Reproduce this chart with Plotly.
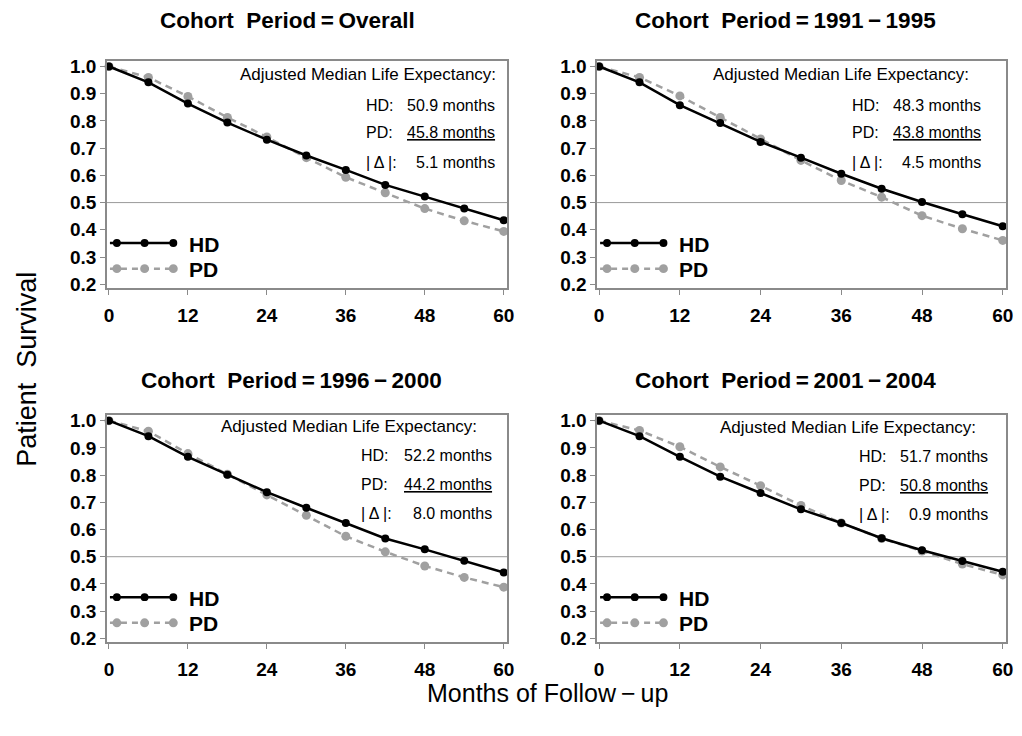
import plotly.graph_objects as go

W, H = 1022, 736

# ---------------- data ----------------
months = [0, 6, 12, 18, 24, 30, 36, 42, 48, 54, 60]

panel_titles = ["Cohort  Period\u2009=\u2009Overall", "Cohort  Period\u2009=\u20091991\u2009\u2212\u20091995",
                "Cohort  Period\u2009=\u20091996\u2009\u2212\u20092000", "Cohort  Period\u2009=\u20092001\u2009\u2212\u20092004"]

hd_overall = [1.0, 0.942, 0.864, 0.794, 0.731, 0.673, 0.620, 0.565, 0.522, 0.478, 0.435]
pd_overall = [1.0, 0.960, 0.890, 0.813, 0.741, 0.665, 0.593, 0.536, 0.478, 0.433, 0.394]

hd_9195 = [1.0, 0.942, 0.858, 0.792, 0.723, 0.665, 0.606, 0.551, 0.502, 0.457, 0.413]
pd_9195 = [1.0, 0.960, 0.892, 0.813, 0.734, 0.655, 0.581, 0.520, 0.452, 0.404, 0.361]

hd_9600 = [1.0, 0.943, 0.867, 0.801, 0.737, 0.680, 0.624, 0.567, 0.527, 0.485, 0.442]
pd_9600 = [1.0, 0.961, 0.879, 0.803, 0.727, 0.652, 0.575, 0.518, 0.466, 0.424, 0.388]

hd_0104 = [1.0, 0.943, 0.867, 0.794, 0.734, 0.674, 0.624, 0.568, 0.524, 0.484, 0.445]
pd_0104 = [1.0, 0.964, 0.904, 0.830, 0.761, 0.688, 0.624, 0.567, 0.521, 0.473, 0.433]

hd_series = [hd_overall, hd_9195, hd_9600, hd_0104]
pd_series = [pd_overall, pd_9195, pd_9600, pd_0104]

hd_median = ["50.9", "48.3", "52.2", "51.7"]
pd_median = ["45.8", "43.8", "44.2", "50.8"]
delta_abs = ["5.1", "4.5", "8.0", "0.9"]

x_ticks = [0, 12, 24, 36, 48, 60]
y_ticks = [0.2, 0.3, 0.4, 0.5, 0.6, 0.7, 0.8, 0.9, 1.0]
y_tick_labels = ["0.2", "0.3", "0.4", "0.5", "0.6", "0.7", "0.8", "0.9", "1.0"]

# ---------------- layout geometry (pixels) ----------------
frames = [  # left, right, top, bottom
    (105, 509, 57, 288),
    (600, 1013, 57, 288),
    (105, 509, 417, 648),
    (600, 1013, 417, 648),
]
title_pos = [(287, 16), (790, 16), (291, 382), (790, 382)]
hdr_right = [0.978, 0.913, 0.931, 0.932]
lbl_left = [0.643, 0.618, 0.631, 0.635]
val_right = [0.975, 0.944, 0.968, 0.961]
txt_offsets = [[14, 45, 73, 103], [14, 45, 73, 103], [11, 41, 70, 100], [12, 42, 71, 101]]

BLACK = "#000000"
GRAY = "#a0a0a0"
FRAME = "#8a8a8a"
FONT = "Liberation Sans"

fig = go.Figure()
layout = dict(width=W, height=H, margin=dict(l=0, r=0, t=0, b=0),
              paper_bgcolor="white", plot_bgcolor="white", showlegend=False)
annotations = []
shapes = []


def px(xp):
    return xp / W


def py(yp):
    return 1 - yp / H


for i in range(4):
    k = "" if i == 0 else str(i + 1)
    L, R, T, B = frames[i]
    xa = "x" + k
    ya = "y" + k
    fig.add_trace(go.Scatter(x=months, y=pd_series[i], mode="lines+markers", xaxis=xa, yaxis=ya,
                             line=dict(color=GRAY, width=2.5, dash="7px,5px"),
                             marker=dict(color=GRAY, size=9), cliponaxis=False))
    fig.add_trace(go.Scatter(x=months, y=hd_series[i], mode="lines+markers", xaxis=xa, yaxis=ya,
                             line=dict(color=BLACK, width=2.5),
                             marker=dict(color=BLACK, size=8), cliponaxis=False))
    layout["xaxis" + k] = dict(domain=[px(L), px(R)], anchor=ya, range=[-0.3, 60.5],
                               tickvals=x_ticks, ticktext=[str(v) for v in x_ticks],
                               ticks="outside", ticklen=5, tickcolor=FRAME, tickwidth=1.2,
                               ticklabelstandoff=4,
                               showline=True, mirror=True, linecolor=FRAME, linewidth=1.5,
                               showgrid=False, zeroline=False,
                               tickfont=dict(family=FONT, size=19, color=BLACK, weight="bold"))
    layout["yaxis" + k] = dict(domain=[py(B), py(T)], anchor=xa, range=[0.185, 1.02],
                               tickvals=y_ticks, ticktext=y_tick_labels,
                               ticks="outside", ticklen=5, tickcolor=FRAME, tickwidth=1.2,
                               showline=True, mirror=True, linecolor=FRAME, linewidth=1.5,
                               showgrid=False, zeroline=False,
                               tickfont=dict(family=FONT, size=19, color=BLACK, weight="bold"))
    # reference line at 0.5
    shapes.append(dict(type="line", xref=xa + " domain", yref=ya, x0=0, x1=1, y0=0.5, y1=0.5,
                       line=dict(color="#9a9a9a", width=1), layer="below"))
    # panel title
    tx, ty = title_pos[i]
    annotations.append(dict(text=panel_titles[i], x=px(tx), y=py(ty), xref="paper", yref="paper",
                            showarrow=False, xanchor="center", yanchor="middle",
                            font=dict(family=FONT, size=22.5, color=BLACK, weight="bold")))
    # median life expectancy text
    hgt = B - T
    offs = txt_offsets[i]
    annotations.append(dict(text="Adjusted Median Life Expectancy:", x=hdr_right[i], y=1 - offs[0] / hgt,
                            xref=xa + " domain", yref=ya + " domain", showarrow=False,
                            xanchor="right", yanchor="middle",
                            font=dict(family=FONT, size=17, color=BLACK)))
    fnt = dict(family=FONT, size=16, color=BLACK)
    rows = [("HD:", hd_median[i] + " months"),
            ("PD:", "<u>" + pd_median[i] + " months</u>"),
            ("| \u0394 |:", delta_abs[i] + " months")]
    for j, (lab, val) in enumerate(rows):
        yy = 1 - offs[j + 1] / hgt
        annotations.append(dict(text=lab, x=lbl_left[i], y=yy, xref=xa + " domain", yref=ya + " domain",
                                showarrow=False, xanchor="left", yanchor="middle", font=fnt))
        annotations.append(dict(text=val, x=val_right[i], y=yy, xref=xa + " domain", yref=ya + " domain",
                                showarrow=False, xanchor="right", yanchor="middle", font=fnt))
    # legend keys
    for name, col, dash, yo, ms in [("HD", BLACK, "solid", 185, 8), ("PD", GRAY, "6px,5px", 211, 9)]:
        yk = T + yo
        shapes.append(dict(type="line", xref="paper", yref="paper", x0=px(L + 3), x1=px(L + 69),
                           y0=py(yk), y1=py(yk), line=dict(color=col, width=2.5, dash=dash)))
        for mo in (10, 38, 67):
            cx = L + mo
            r = ms / 2
            shapes.append(dict(type="circle", xref="paper", yref="paper",
                               x0=px(cx - r), x1=px(cx + r), y0=py(yk - r), y1=py(yk + r),
                               fillcolor=col, line=dict(color=col, width=0)))
        annotations.append(dict(text=name, x=px(L + 81), y=py(yk + 1), xref="paper", yref="paper",
                                showarrow=False, xanchor="left", yanchor="middle",
                                font=dict(family=FONT, size=21, color=BLACK, weight="bold")))

# global axis titles
annotations.append(dict(text="Months of Follow\u2009\u2212\u2009up", x=px(550), y=py(699), xref="paper", yref="paper",
                        showarrow=False, xanchor="center", yanchor="middle",
                        font=dict(family=FONT, size=25, color=BLACK)))
annotations.append(dict(text="Patient  Survival", x=px(24), y=py(370), xref="paper", yref="paper",
                        showarrow=False, xanchor="center", yanchor="middle", textangle=-90,
                        font=dict(family=FONT, size=27, color=BLACK)))

layout["annotations"] = annotations
layout["shapes"] = shapes
fig.update_layout(**layout)
fig.write_html("out.html", config={"displayModeBar": False},
               post_script="document.body.style.margin='0px';document.body.style.overflow='hidden';")
